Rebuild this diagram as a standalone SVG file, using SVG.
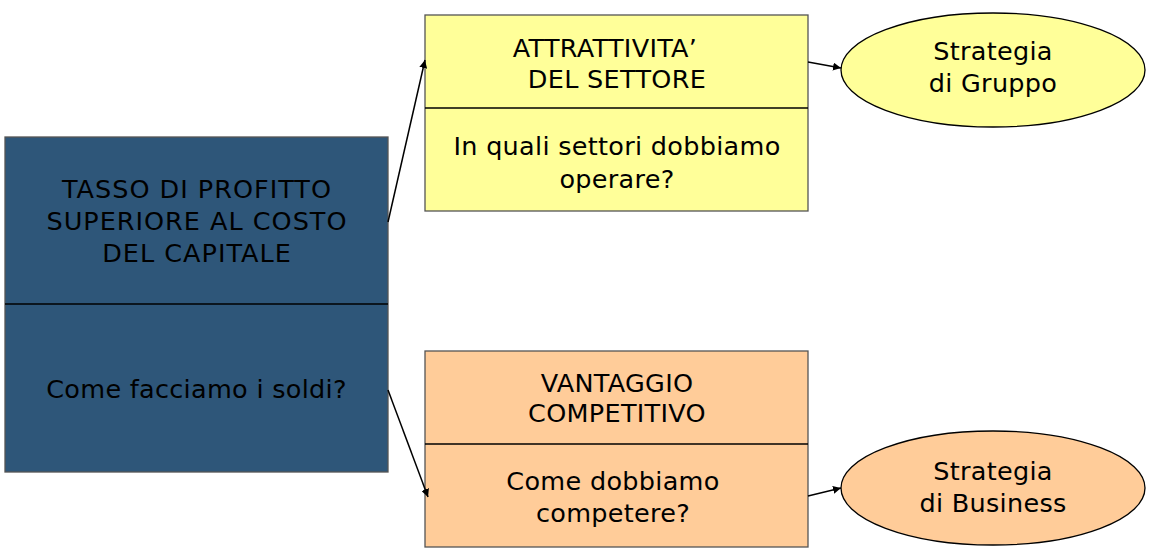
<svg xmlns="http://www.w3.org/2000/svg" width="1152" height="552" viewBox="0 0 1152 552">
<style>
text{font-family:"DejaVu Sans","Verdana",sans-serif;font-size:25.5px;letter-spacing:0.3px;fill:#000;text-anchor:middle}
text.w{letter-spacing:1px}
.box{stroke:#555;stroke-width:1.3}
.div{stroke:#000;stroke-width:1.3}
.c{stroke:#000;stroke-width:1.5;fill:none;marker-end:url(#ah)}
</style>
<defs>
<marker id="ah" viewBox="0 0 10 10" refX="10" refY="5" markerWidth="8" markerHeight="8" markerUnits="userSpaceOnUse" orient="auto">
<path d="M0,0 L10,5 L0,10 z" fill="#000"/>
</marker>
</defs>
<rect width="1152" height="552" fill="#fff"/>
<g id="profitto">
<rect class="box" x="5" y="137" width="383" height="335" fill="#2E5679"/>
<line class="div" x1="5" y1="304" x2="388" y2="304"/>
<text class="w" x="197" y="198">TASSO DI PROFITTO</text>
<text class="w" x="197" y="230">SUPERIORE AL COSTO</text>
<text class="w" x="197" y="262">DEL CAPITALE</text>
<text x="196.5" y="398">Come facciamo i soldi?</text>
</g>
<g id="attrattivita">
<rect class="box" x="425" y="15" width="383" height="196" fill="#FFFF99"/>
<line class="div" x1="425" y1="108" x2="808" y2="108"/>
<text x="605" y="57" letter-spacing="0">ATTRATTIVITA’</text>
<text x="617" y="88">DEL SETTORE</text>
<text x="617" y="155">In quali settori dobbiamo</text>
<text x="617" y="188">operare?</text>
</g>
<g id="vantaggio">
<rect class="box" x="425" y="351" width="383" height="196" fill="#FFCC99"/>
<line class="div" x1="425" y1="444" x2="808" y2="444"/>
<text x="617" y="392">VANTAGGIO</text>
<text x="617" y="422">COMPETITIVO</text>
<text x="613" y="490">Come dobbiamo</text>
<text x="613" y="522">competere?</text>
</g>
<g id="gruppo">
<ellipse cx="993" cy="70" rx="152" ry="57" fill="#FFFF99" stroke="#000" stroke-width="1.3"/>
<text x="993" y="60">Strategia</text>
<text x="993" y="92">di Gruppo</text>
</g>
<g id="business">
<ellipse cx="993" cy="488" rx="152" ry="57" fill="#FFCC99" stroke="#000" stroke-width="1.3"/>
<text x="993" y="480">Strategia</text>
<text x="993" y="512">di Business</text>
</g>
<g id="connectors">
<line class="c" x1="388" y1="222" x2="425" y2="60"/>
<line class="c" x1="388" y1="390" x2="428" y2="497"/>
<line class="c" x1="808" y1="62" x2="841" y2="68"/>
<line class="c" x1="808" y1="496" x2="841" y2="488"/>
</g>
</svg>
